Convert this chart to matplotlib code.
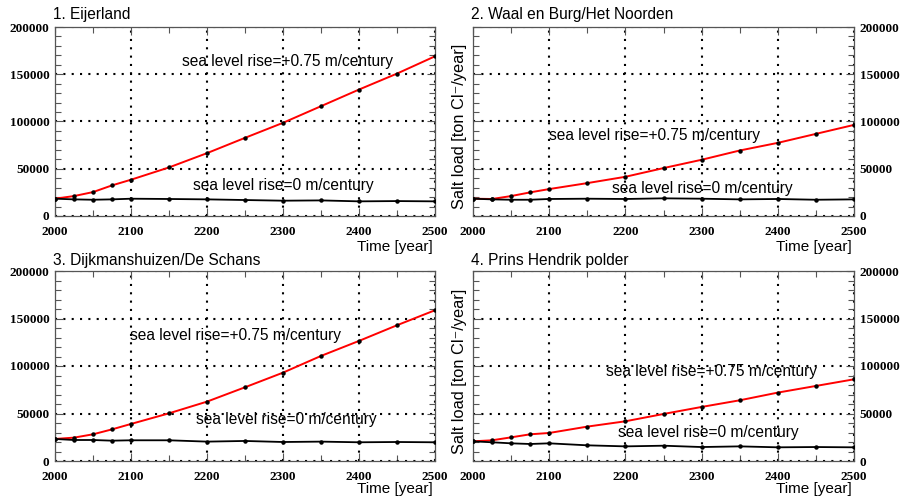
import matplotlib
matplotlib.use("Agg")
import matplotlib.pyplot as plt
from matplotlib.ticker import MultipleLocator

years = [2000, 2025, 2050, 2075, 2100, 2150, 2200, 2250, 2300, 2350, 2400, 2450, 2500]

titles = ["1. Eijerland", "2. Waal en Burg/Het Noorden",
          "3. Dijkmanshuizen/De Schans", "4. Prins Hendrik polder"]

rise_075 = [
    [18300, 21100, 25300, 32400, 38400, 51400, 66500, 82700, 98600, 116200, 133800, 150700, 169000],
    [18300, 18000, 21100, 25000, 28500, 34800, 41500, 50700, 59500, 69300, 77400, 86900, 96400],
    [23200, 24600, 28100, 33300, 39000, 50200, 62500, 77600, 93000, 110600, 126400, 142900, 158700],
    [20700, 21800, 24900, 28100, 29500, 36200, 41800, 49500, 56900, 63900, 72000, 79000, 86000],
]
rise_0 = [
    [18300, 17600, 17200, 17600, 18300, 18000, 17600, 16900, 16200, 16500, 15500, 15800, 15500],
    [18300, 17600, 17200, 17200, 18000, 18300, 18000, 18700, 18300, 17600, 18000, 17200, 17600],
    [23200, 22100, 22100, 21400, 21800, 21800, 20400, 21100, 20000, 20400, 19700, 20000, 19700],
    [20700, 19700, 18600, 17900, 18600, 16500, 15400, 16100, 14700, 15400, 14400, 14700, 14400],
]

label_075 = "sea level rise=+0.75 m/century"
label_0 = "sea level rise=0 m/century"
pos_075 = [(2167, 163000), (2100, 84700), (2099, 131600), (2175, 94700)]
pos_0 = [(2182, 32800), (2182, 29600), (2185, 43200), (2190, 29500)]

ylabel = "Salt load [ton Cl\u207b/year]"
xlabel = "Time [year]"

W, H = 903, 503
fig = plt.figure(figsize=(W / 100, H / 100), dpi=100)

boxes = [(55, 27, 380, 189), (473, 27, 381, 189),
         (55, 271, 380, 190), (473, 271, 381, 190)]
xlab_off = [31, 31, 28, 28]

sans = ["Liberation Sans", "DejaVu Sans"]
serif = ["Liberation Serif", "DejaVu Serif"]
frame_col = "#555555"

for i in range(4):
    l, t, w, h = boxes[i]
    ax = fig.add_axes([l / W, (H - t - h) / H, w / W, h / H])
    ax.plot(years, rise_075[i], color="red", lw=1.4, zorder=3)
    ax.plot(years, rise_0[i], color="black", lw=1.3, zorder=3)
    ax.plot(years, rise_075[i], "o", color="black", ms=2.2, zorder=4)
    ax.plot(years, rise_0[i], "o", color="black", ms=2.2, zorder=4)
    ax.set_xlim(2000, 2500)
    ax.set_ylim(0, 200000)
    ax.xaxis.set_major_locator(MultipleLocator(100))
    ax.xaxis.set_minor_locator(MultipleLocator(50))
    ax.yaxis.set_major_locator(MultipleLocator(50000))
    ax.yaxis.set_minor_locator(MultipleLocator(10000))
    ax.grid(True, which="major", color="black", linestyle=(0, (1, 3)), lw=1.5)
    right = (i % 2 == 1)
    ax.tick_params(which="both", direction="in", top=True, right=True,
                   color=frame_col, width=0.8)
    ax.tick_params(which="major", length=6, labelsize=9.5)
    ax.tick_params(axis="x", which="major", pad=7)
    ax.tick_params(axis="y", which="major", pad=4)
    ax.tick_params(which="minor", length=4)
    if right:
        ax.tick_params(labelleft=False, labelright=True)
    for lab in ax.get_xticklabels() + ax.get_yticklabels():
        lab.set_fontfamily(serif)
        lab.set_fontweight("bold")
    for sp in ax.spines.values():
        sp.set_color(frame_col)
        sp.set_linewidth(0.9)
    ax.text(pos_075[i][0], pos_075[i][1], label_075, fontsize=11.2,
            family=sans, ha="left", va="center", zorder=5)
    ax.text(pos_0[i][0], pos_0[i][1], label_0, fontsize=11.2,
            family=sans, ha="left", va="center", zorder=5)
    # title
    fig.text((l - 2) / W, (H - 15) / H if t < 100 else (H - 260) / H,
             titles[i], fontsize=11.2, family=sans, ha="left", va="center")
    # x label
    fig.text((l + w - 2) / W, (H - (t + h + xlab_off[i])) / H, xlabel, fontsize=11,
             family=sans, ha="right", va="center")
    if right:
        fig.text(460 / W, (H - (t + h / 2 + 5)) / H, ylabel, fontsize=11.8,
                 family=sans, ha="center", va="center", rotation=90)

fig.savefig("out.png", dpi=100)
